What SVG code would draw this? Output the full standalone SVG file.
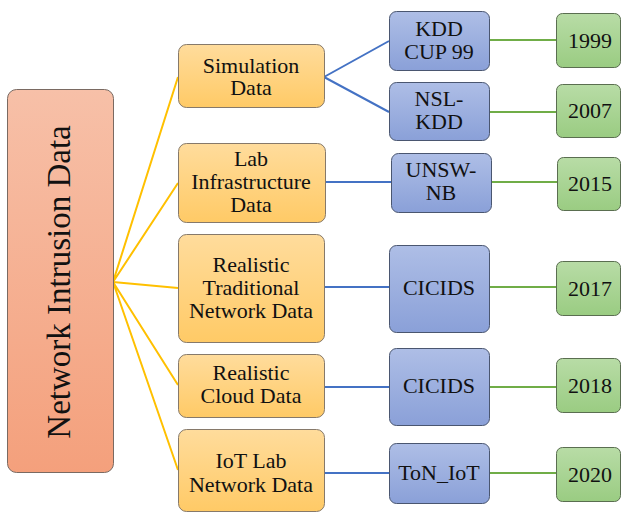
<svg xmlns="http://www.w3.org/2000/svg" width="622" height="514" viewBox="0 0 622 514">
<defs>
<linearGradient id="gRoot" x1="0" y1="0" x2="0" y2="1"><stop offset="0" stop-color="#F7C0A8"/><stop offset="1" stop-color="#F4A07C"/></linearGradient>
<linearGradient id="gOr" x1="0" y1="0" x2="0" y2="1"><stop offset="0" stop-color="#FFDC9C"/><stop offset="1" stop-color="#FFCA66"/></linearGradient>
<linearGradient id="gBl" x1="0" y1="0" x2="0" y2="1"><stop offset="0" stop-color="#AEBEE6"/><stop offset="1" stop-color="#8AA0D8"/></linearGradient>
<linearGradient id="gGr" x1="0" y1="0" x2="0" y2="1"><stop offset="0" stop-color="#B8DCA6"/><stop offset="1" stop-color="#9ACC82"/></linearGradient>
</defs>
<style>
.t{font-family:'Liberation Serif','Times New Roman',serif;font-size:22px;fill:#111;text-anchor:middle}
.root{fill:url(#gRoot);stroke:#7a6a62;stroke-width:1}
.or{fill:url(#gOr);stroke:#86796a;stroke-width:1}
.bl{fill:url(#gBl);stroke:#4a5670;stroke-width:1}
.gr{fill:url(#gGr);stroke:#5a6e50;stroke-width:1}
.ly{stroke:#FFC000;stroke-width:2;fill:none}
.lb{stroke:#4472C4;stroke-width:2;fill:none}
.lg{stroke:#70AD47;stroke-width:2;fill:none}
</style>
<rect width="622" height="514" fill="#fff"/>
<g id="connectors">
<path class="ly" d="M113 282L178 77M113 282L178 183M113 282L178 288M113 282L178 385M113 282L178 470"/>
<path class="lb" d="M324 77L389 41M324 77L389 112M325 182L391 182M324 287L389 287M324 387L389 387M324 473L389 473"/>
<path class="lg" d="M489 40L556 40M489 112L556 112M491 182L557 182M489 287L556 287M489 387L556 387M489 473L556 473"/>
</g>
<g font-family="Liberation Serif, serif" font-size="22" text-anchor="middle" fill="#111">
<g id="root"><rect class="root" x="7.5" y="89.5" width="106" height="383" rx="9"/><text class="t" font-size="33" style="font-size:33px" transform="translate(70 282) rotate(-90)">Network Intrusion Data</text></g>
<g id="sim"><rect class="or" x="178.5" y="44.5" width="146" height="63" rx="8"/><text class="t" x="251" y="73">Simulation</text><text class="t" x="251" y="95">Data</text></g>
<g id="lab"><rect class="or" x="178.5" y="143.5" width="147" height="79" rx="8"/><text class="t" x="251" y="166">Lab</text><text class="t" x="251" y="189">Infrastructure</text><text class="t" x="251" y="212">Data</text></g>
<g id="trad"><rect class="or" x="178.5" y="234.5" width="146" height="108" rx="8"/><text class="t" x="251" y="272">Realistic</text><text class="t" x="251" y="295">Traditional</text><text class="t" x="251" y="318">Network Data</text></g>
<g id="cloud"><rect class="or" x="178.5" y="354.5" width="146" height="63" rx="8"/><text class="t" x="251" y="380">Realistic</text><text class="t" x="251" y="403">Cloud Data</text></g>
<g id="iot"><rect class="or" x="178.5" y="429.5" width="146" height="82" rx="8"/><text class="t" x="251" y="468">IoT Lab</text><text class="t" x="251" y="492">Network Data</text></g>
<g id="kdd"><rect class="bl" x="389.5" y="11.5" width="100" height="59" rx="7"/><text class="t" x="439" y="36">KDD</text><text class="t" x="439" y="59">CUP 99</text></g>
<g id="nsl"><rect class="bl" x="389.5" y="82.5" width="100" height="58" rx="7"/><text class="t" x="439" y="106">NSL-</text><text class="t" x="439" y="129">KDD</text></g>
<g id="unsw"><rect class="bl" x="391.5" y="153.5" width="100" height="59" rx="7"/><text class="t" x="441" y="177">UNSW-</text><text class="t" x="441" y="200">NB</text></g>
<g id="cic17"><rect class="bl" x="389.5" y="245.5" width="100" height="87" rx="7"/><text class="t" x="439" y="295">CICIDS</text></g>
<g id="cic18"><rect class="bl" x="389.5" y="348.5" width="100" height="77" rx="7"/><text class="t" x="439" y="393">CICIDS</text></g>
<g id="ton"><rect class="bl" x="389.5" y="443.5" width="100" height="60" rx="7"/><text class="t" x="439" y="480">ToN_IoT</text></g>
<g id="y1999"><rect class="gr" x="556.5" y="13.5" width="64" height="54" rx="6"/><text class="t" x="590" y="48">1999</text></g>
<g id="y2007"><rect class="gr" x="556.5" y="84.5" width="64" height="53" rx="6"/><text class="t" x="590" y="118">2007</text></g>
<g id="y2015"><rect class="gr" x="557.5" y="157.5" width="63" height="53" rx="6"/><text class="t" x="590" y="191">2015</text></g>
<g id="y2017"><rect class="gr" x="556.5" y="261.5" width="64" height="54" rx="6"/><text class="t" x="590" y="296">2017</text></g>
<g id="y2018"><rect class="gr" x="556.5" y="358.5" width="64" height="54" rx="6"/><text class="t" x="590" y="393">2018</text></g>
<g id="y2020"><rect class="gr" x="556.5" y="447.5" width="64" height="54" rx="6"/><text class="t" x="590" y="482">2020</text></g>
</g>
</svg>
